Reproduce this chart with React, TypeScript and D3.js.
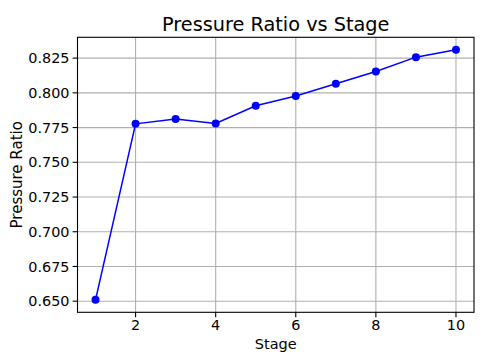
import React from "react";
import * as d3 from "d3";

const stages = [1, 2, 3, 4, 5, 6, 7, 8, 9, 10];
const pressureRatio = [0.651, 0.7777, 0.7811, 0.7779, 0.7907, 0.7978, 0.8065, 0.8154, 0.8257, 0.831];
const xTicks = [2, 4, 6, 8, 10];
const yTicks = [0.65, 0.675, 0.7, 0.725, 0.75, 0.775, 0.8, 0.825];
const title = "Pressure Ratio vs Stage";
const xLabel = "Stage";
const yLabel = "Pressure Ratio";

const W = 493;
const H = 356;
const M = { left: 77.5, right: 474, top: 37.3, bottom: 312.3 };
const FONT = "DejaVu Sans, sans-serif";

export default function App() {
  const x = d3.scaleLinear().domain([0.55, 10.45]).range([M.left, M.right]);
  const yMin = 0.651, yMax = 0.831;
  const pad = (yMax - yMin) * 0.05;
  const y = d3.scaleLinear().domain([yMin - pad, yMax + pad]).range([M.bottom, M.top]);
  const pts: [number, number][] = stages.map((s, i) => [s, pressureRatio[i]]);
  const line = d3.line<[number, number]>().x((d) => x(d[0])).y((d) => y(d[1]));
  const tickFs = 14.4;

  return (
    <svg width={W} height={H} style={{ position: "absolute", left: 0, top: 0, background: "#fff" }} fontFamily={FONT}>
      <rect x={0} y={0} width={W} height={H} fill="#fff" />
      {xTicks.map((t) => (
        <line key={"gx" + t} x1={x(t)} x2={x(t)} y1={M.top} y2={M.bottom} stroke="#b0b0b0" strokeWidth={1.1} />
      ))}
      {yTicks.map((t) => (
        <line key={"gy" + t} x1={M.left} x2={M.right} y1={y(t)} y2={y(t)} stroke="#b0b0b0" strokeWidth={1.1} />
      ))}
      <path d={line(pts) || ""} fill="none" stroke="#0000ff" strokeWidth={1.5} />
      {pts.map((d, i) => (
        <circle key={i} cx={x(d[0])} cy={y(d[1])} r={4} fill="#0000ff" />
      ))}
      <rect x={M.left} y={M.top} width={M.right - M.left} height={M.bottom - M.top} fill="none" stroke="#000" strokeWidth={1.1} />
      {xTicks.map((t) => (
        <g key={"xt" + t}>
          <line x1={x(t)} x2={x(t)} y1={M.bottom} y2={M.bottom + 4.9} stroke="#000" strokeWidth={1.1} />
          <text x={x(t)} y={M.bottom + 18} textAnchor="middle" fontSize={tickFs} fill="#000">
            {String(t)}
          </text>
        </g>
      ))}
      {yTicks.map((t) => (
        <g key={"yt" + t}>
          <line x1={M.left - 4.9} x2={M.left} y1={y(t)} y2={y(t)} stroke="#000" strokeWidth={1.1} />
          <text x={M.left - 8} y={y(t)} dy="0.36em" textAnchor="end" fontSize={tickFs} fill="#000">
            {d3.format(".3f")(t)}
          </text>
        </g>
      ))}
      <text x={(M.left + M.right) / 2} y={349} textAnchor="middle" fontSize={14.5} fill="#000">
        {xLabel}
      </text>
      <text
        transform={`translate(22, ${(M.top + M.bottom) / 2}) rotate(-90)`}
        textAnchor="middle"
        fontSize={15}
        fill="#000"
      >
        {yLabel}
      </text>
      <text x={(M.left + M.right) / 2} y={31} textAnchor="middle" fontSize={19.3} fill="#000">
        {title}
      </text>
    </svg>
  );
}
